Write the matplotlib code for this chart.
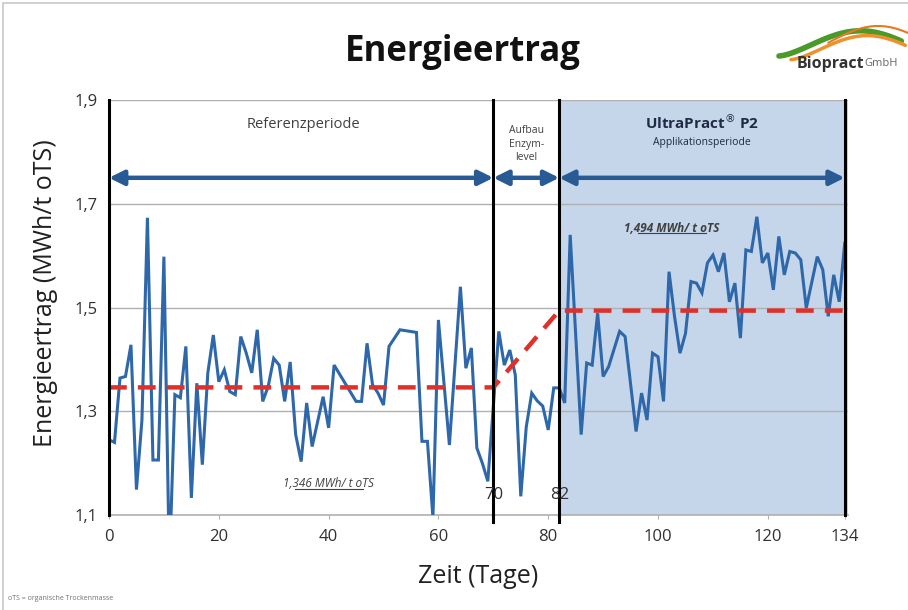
import matplotlib
matplotlib.use("Agg")
import matplotlib.pyplot as plt
import numpy as np
from matplotlib.patches import Rectangle, FancyArrowPatch

plt.rcParams['font.family'] = ['Open Sans', 'DejaVu Sans']

# ---- data ----
days = [0, 1, 2, 3, 4, 5, 6, 7, 8, 9, 10, 11, 12, 13, 14, 15, 16, 17, 18, 19,
        20, 21, 22, 23, 24, 25, 26, 27, 28, 29, 30, 31, 32, 33, 34, 35, 36, 37, 38, 39,
        40, 41, 45, 46, 47, 48, 49, 50, 51, 53, 56, 57, 58, 59, 60, 62, 64, 65, 66,
        67, 68, 69, 71, 72, 73, 74, 75, 76, 77, 78, 79, 80, 81, 82, 83, 84, 86, 87, 88,
        89, 90, 91, 93, 94, 96, 97, 98, 99, 100, 101, 102, 103, 104, 105, 106, 107, 108, 109, 110,
        111, 112, 113, 114, 115, 116, 117, 118, 119, 120, 121, 122, 123, 124, 125, 126, 127, 129, 130, 131,
        132, 133, 134]
energy = [1.245, 1.24, 1.364, 1.367, 1.428, 1.149, 1.283, 1.673, 1.206, 1.206, 1.598, 1.0, 1.332, 1.326, 1.425, 1.133, 1.354, 1.197, 1.374, 1.447,
          1.357, 1.38, 1.338, 1.332, 1.444, 1.412, 1.374, 1.457, 1.319, 1.348, 1.402, 1.389, 1.319, 1.395, 1.255, 1.203, 1.316, 1.232, 1.28, 1.328,
          1.268, 1.389, 1.319, 1.319, 1.431, 1.351, 1.335, 1.312, 1.425, 1.457, 1.452, 1.242, 1.242, 1.095, 1.476, 1.235, 1.54, 1.383, 1.422,
          1.229, 1.2, 1.165, 1.454, 1.389, 1.418, 1.37, 1.136, 1.27, 1.335, 1.32, 1.31, 1.264, 1.345, 1.345, 1.316, 1.640, 1.255, 1.393, 1.389,
          1.489, 1.367, 1.386, 1.454, 1.444, 1.261, 1.335, 1.283, 1.412, 1.405, 1.319, 1.569, 1.483, 1.412, 1.45, 1.55, 1.547, 1.528, 1.586, 1.601,
          1.569, 1.605, 1.511, 1.547, 1.441, 1.611, 1.608, 1.675, 1.586, 1.605, 1.534, 1.637, 1.563, 1.608, 1.605, 1.592, 1.499, 1.598, 1.573, 1.483,
          1.563, 1.511, 1.624]

mean_x = [0, 70, 82, 134]
mean_y = [1.346, 1.346, 1.494, 1.494]

period_bounds = [0, 70, 82, 134]
x_ticks = [0, 20, 40, 60, 80, 100, 120, 134]
x_ticklabels = ['0', '20', '40', '60', '80', '100', '120', '134']
y_ticks = [1.1, 1.3, 1.5, 1.7, 1.9]
y_ticklabels = ['1,1', '1,3', '1,5', '1,7', '1,9']

blue = '#2e68aa'
dark_blue = '#285a94'
red = '#e0302a'

fig = plt.figure(figsize=(9.08, 6.10), dpi=100)
ax = fig.add_axes([109/908, 1-515/610, 739/908, 415/610])

ax.set_xlim(0, 134.6)
ax.set_ylim(1.1, 1.9)

# shaded application period
ax.axvspan(82, 134.6, color='#c5d6ea', zorder=0, lw=0)

# gridlines
for yv in [1.3, 1.5, 1.7, 1.9]:
    ax.axhline(yv, color='#b0b0b0', lw=1.0, zorder=1)

# series
ax.plot(days, energy, color=blue, lw=2.2, zorder=4, solid_joinstyle='miter')

# mean lines
ax.plot(mean_x, mean_y, color=red, lw=3.2, ls=(0, (4, 2.5)), zorder=5)

# vertical period lines
for xv in period_bounds:
    ax.plot([xv, xv], [1.1, 1.9], color='black', lw=2.2, zorder=6, clip_on=False)
for xv in [70, 82]:
    ax.plot([xv, xv], [1.1, 1.087], color='black', lw=2.2, zorder=6, clip_on=False)

# arrows
for a, b in [(0, 70), (70, 82), (82, 134)]:
    arr = FancyArrowPatch((a, 1.75), (b, 1.75), arrowstyle='<|-|>', mutation_scale=22,
                          color=dark_blue, lw=3.2, shrinkA=0, shrinkB=0, zorder=7)
    ax.add_patch(arr)

# period texts
ax.text(35.5, 1.852, 'Referenzperiode', ha='center', va='center', fontsize=10.5, color='#404040')
ax.text(76, 1.815, 'Aufbau\nEnzym-\nlevel', ha='center', va='center', fontsize=7.5,
        color='#404040', linespacing=1.3)
ax.text(108, 1.857, 'UltraPract$^{\u00ae}$ P2', ha='center', va='center', fontsize=11,
        fontweight='bold', color='#1f2a44')
ax.text(108, 1.818, 'Applikationsperiode', ha='center', va='center', fontsize=7.5, color='#1f2a44')

ax.text(102.5, 1.653, '1,494 MWh/ t oTS', ha='center', va='center', fontsize=8.5,
        fontstyle='italic', fontweight='bold', color='#404040')
ax.plot([96.4, 108.7], [1.643, 1.643], color='#404040', lw=0.8, zorder=8)
ax.text(40, 1.16, '1,346 MWh/ t oTS', ha='center', va='center', fontsize=8.5,
        fontstyle='italic', color='#404040')
ax.plot([33.8, 46.3], [1.150, 1.150], color='#404040', lw=0.8, zorder=8)

ax.text(70, 1.138, '70', ha='center', va='center', fontsize=12, color='#303030', zorder=9)
ax.text(82, 1.138, '82', ha='center', va='center', fontsize=12, color='#303030', zorder=9)

# axes styling
for s in ['top', 'right', 'left']:
    ax.spines[s].set_visible(False)
ax.spines['bottom'].set_color('#b0b0b0')
ax.spines['bottom'].set_linewidth(1.2)
ax.set_xticks(x_ticks)
ax.set_xticklabels(x_ticklabels)
ax.set_yticks(y_ticks)
ax.set_yticklabels(y_ticklabels)
ax.tick_params(axis='x', length=3, color='#b0b0b0', labelsize=12, labelcolor='#303030', pad=7)
ax.tick_params(axis='y', length=0, labelsize=12, labelcolor='#303030', pad=8)

ax.set_xlabel('Zeit (Tage)', fontsize=18, color='#202020', labelpad=14)
ax.set_ylabel('Energieertrag (MWh/t oTS)', fontsize=18, color='#202020')
ax.yaxis.set_label_coords(-0.069, 0.535)

# title
fig.text(463/908, 1-52/610, 'Energieertrag', ha='center', va='center', fontsize=25,
         fontweight='bold', color='#111111')

# logo
lax = fig.add_axes([775/908, 1-80/610, 133/908, 60/610])
lax.set_xlim(0, 1)
lax.set_ylim(0, 1)
lax.axis('off')
t = np.linspace(0, 1, 100)
lax.plot(0.03 + 0.92 * t, 0.40 + 0.42 * np.sin(0.75 * np.pi * t) ** 1.5, color='#4a9a2a', lw=4, solid_capstyle='round')
lax.plot(0.12 + 0.86 * t, 0.34 + 0.40 * np.sin(0.75 * np.pi * t) ** 1.5, color='#f0902a', lw=2.5, solid_capstyle='round')
lax.plot(0.40 + 0.60 * t, 0.62 + 0.28 * np.sin(0.8 * np.pi * t), color='#e87820', lw=1.5, solid_capstyle='round')
fig.text(797/908, 1-64/610, 'Biopract', ha='left', va='center', fontsize=11.5,
         fontweight='bold', color='#333333')
fig.text(864/908, 1-64/610, 'GmbH', ha='left', va='center', fontsize=8, color='#666666')

# footnote
fig.text(8/908, 1-599/610, 'oTS = organische Trockenmasse', ha='left', va='center',
         fontsize=5, color='#707070')

# slide border
fig.add_artist(Rectangle((3/908, -0.01), 1.5, 1.0 - 3/610 + 0.01, transform=fig.transFigure,
                         fill=False, edgecolor='#c8c8c8', lw=1.2))

fig.savefig('out.png', dpi=100)
